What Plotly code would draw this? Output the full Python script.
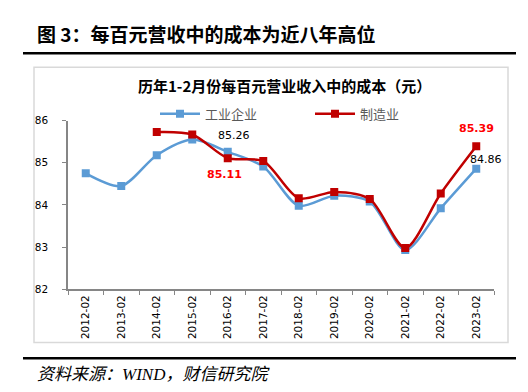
import plotly.graph_objects as go

categories = ["2012-02", "2013-02", "2014-02", "2015-02", "2016-02", "2017-02",
              "2018-02", "2019-02", "2020-02", "2021-02", "2022-02", "2023-02"]
industry = [84.75, 84.45, 85.18, 85.55, 85.26, 84.91, 83.98, 84.22, 84.08, 82.93, 83.92, 84.86]
manufacturing = [None, None, 85.73, 85.67, 85.11, 85.04, 84.16, 84.31, 84.14, 82.98, 84.27, 85.39]
y_ticks = [82, 83, 84, 85, 86]

W, H = 528, 392
BLUE = "#5B9BD5"
RED = "#C00000"

def px(x):
    return x / W

def py(y):
    return 1 - y / H

fig = go.Figure()
fig.add_trace(go.Scatter(
    x=categories, y=industry, name="工业企业", mode="lines+markers",
    line=dict(color=BLUE, width=2.5, shape="spline", smoothing=0.8),
    marker=dict(symbol="square", size=8, color=BLUE),
))
fig.add_trace(go.Scatter(
    x=categories, y=manufacturing, name="制造业", mode="lines+markers",
    line=dict(color=RED, width=2.5, shape="spline", smoothing=0.8),
    marker=dict(symbol="square", size=8, color=RED),
))

# data labels
fig.add_annotation(x=categories[4], y=industry[4], text="85.26", showarrow=False,
                   xshift=6, yshift=16, font=dict(family="DejaVu Sans", size=11, color="#000000"))
fig.add_annotation(x=categories[4], y=manufacturing[4], text="<b>85.11</b>", showarrow=False,
                   xshift=-3, yshift=-16, font=dict(family="DejaVu Sans", size=11, color="#FF0000"))
fig.add_annotation(x=categories[11], y=manufacturing[11], text="<b>85.39</b>", showarrow=False,
                   xshift=0, yshift=18, font=dict(family="DejaVu Sans", size=11, color="#FF0000"))
fig.add_annotation(x=categories[11], y=industry[11], text="84.86", showarrow=False,
                   xshift=10, yshift=9, font=dict(family="DejaVu Sans", size=11, color="#000000"))

# title / subtitle / source
fig.add_annotation(xref="paper", yref="paper", x=px(27), y=py(20), xanchor="left", yanchor="middle",
                   text="<b>图 3：每百元营收中的成本为近八年高位</b>", showarrow=False,
                   font=dict(family="Noto Sans CJK SC", size=19, color="#000000"))
fig.add_annotation(xref="paper", yref="paper", x=px(276), y=py(74), xanchor="center", yanchor="middle",
                   text="<b>历年1-2月份每百元营业收入中的成本（元）</b>", showarrow=False,
                   font=dict(family="Noto Sans CJK SC", size=15, color="#000000"))
fig.add_annotation(xref="paper", yref="paper", x=px(27), y=py(372), xanchor="left", yanchor="middle",
                   text="<i>资料来源：WIND，财信研究院</i>", showarrow=False,
                   font=dict(family="Liberation Serif, Noto Sans CJK SC", size=17, color="#000000"))

# decorative lines and chart box
fig.add_shape(type="line", xref="paper", yref="paper", x0=px(15), x1=px(508), y0=py(40.5), y1=py(40.5),
              line=dict(color="#000000", width=2.5))
fig.add_shape(type="line", xref="paper", yref="paper", x0=px(15), x1=px(508), y0=py(355), y1=py(355),
              line=dict(color="#000000", width=2.5))
fig.add_shape(type="rect", xref="paper", yref="paper", x0=px(26), x1=px(500), y0=py(55), y1=py(339),
              line=dict(color="#D9D9D9", width=1.5))

fig.update_layout(
    width=W, height=H, autosize=False,
    margin=dict(l=0, r=0, t=0, b=0),
    paper_bgcolor="white", plot_bgcolor="white",
    showlegend=True,
    legend=dict(orientation="h", x=px(147), y=py(103), xanchor="left", yanchor="middle",
                entrywidth=100, entrywidthmode="pixels", bgcolor="rgba(0,0,0,0)",
                font=dict(family="Noto Sans CJK SC", size=13, color="#595959"),
                itemwidth=40, tracegroupgap=0),
    xaxis=dict(domain=[px(60), px(486)], type="category", categoryorder="array",
               categoryarray=categories, tickangle=-90, showgrid=False,
               showline=True, linecolor="#868686", linewidth=1.5,
               ticks="outside", ticklen=4, tickcolor="#868686", tickson="boundaries",
               tickfont=dict(family="DejaVu Sans", size=10.5, color="#000000"),
               range=[-0.5, 11.5], zeroline=False),
    yaxis=dict(domain=[py(284), py(110)], range=[82, 86], tickvals=y_ticks,
               showgrid=False, showline=True, linecolor="#868686", linewidth=1.5,
               ticks="outside", ticklen=4, tickcolor="#868686", ticklabelstandoff=12,
               tickfont=dict(family="DejaVu Sans", size=10.5, color="#000000"),
               zeroline=False),
)

fig.write_html("out.html")
